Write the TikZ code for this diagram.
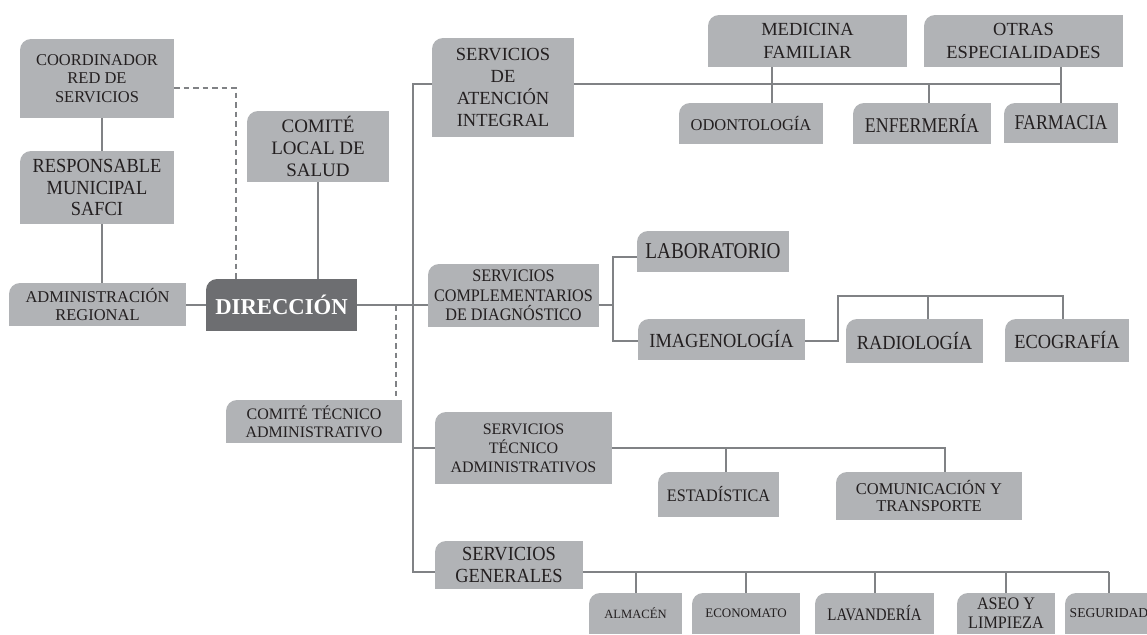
\documentclass[tikz,border=0pt]{standalone}
\usepackage{fontspec}
\setmainfont{Liberation Serif}
\newfontfamily\narrowA{Liberation Serif}[FakeStretch=0.85]
\newfontfamily\narrowB{Liberation Serif}[FakeStretch=0.92]
\definecolor{boxgray}{RGB}{177,179,182}
\definecolor{dirgray}{RGB}{109,110,113}
\definecolor{linegray}{RGB}{128,130,133}
\definecolor{textdark}{RGB}{35,31,32}
\tikzset{
  card/.style={fill=white, inner sep=0pt, align=center, text=textdark,
    path picture={
      \fill[#1] (path picture bounding box.south west) rectangle ([yshift=-11pt]path picture bounding box.north east);
      \fill[#1] ([xshift=11pt]path picture bounding box.north west) rectangle (path picture bounding box.south east);
      \fill[#1] ([xshift=11pt,yshift=-11pt]path picture bounding box.north west) circle[radius=11pt];}},
  card/.default=boxgray,
  link/.style={draw=linegray, line width=2pt},
  dashlink/.style={link, dash pattern=on 5.5pt off 4pt}
}
\newcommand{\fsz}[2]{\fontsize{#1}{#2}\selectfont}
\begin{document}
\begin{tikzpicture}[x=1pt,y=-1pt]
\useasboundingbox (0,0) rectangle (1147,634);
\clip (0,0) rectangle (1147,634);

\node[card, minimum width=154pt, minimum height=79pt, font=\fsz{16.5}{18.7}] (coord) at (97,78.5) {COORDINADOR\\RED DE\\SERVICIOS};
\node[card, minimum width=154pt, minimum height=73pt, font=\narrowB\fsz{20}{21.7}] (resp) at (97,187.5) {RESPONSABLE\\MUNICIPAL\\SAFCI};
\node[card, minimum width=177pt, minimum height=43pt, font=\fsz{16.5}{18.3}] (admin) at (97.5,304.5) {ADMINISTRACIÓN\\REGIONAL};
\node[card=dirgray, minimum width=151pt, minimum height=52pt, text=white, font=\bfseries\fsz{22.7}{24}] (dir) at (281.5,305) {DIRECCIÓN};
\node[card, minimum width=142pt, minimum height=71pt, font=\fsz{19}{22}] (local) at (318,146.5) {COMITÉ\\LOCAL DE\\SALUD};
\node[card, minimum width=176pt, minimum height=43pt, font=\fsz{16}{18.3}] (comtec) at (314,421.5) {COMITÉ TÉCNICO\\ADMINISTRATIVO};

\node[card, minimum width=142pt, minimum height=99pt, font=\fsz{18.5}{21.7}] (atencion) at (503,87.5) {SERVICIOS\\DE\\ATENCIÓN\\INTEGRAL};
\node[card, minimum width=199pt, minimum height=52pt, font=\fsz{18.5}{22.5}] (medicina) at (807.5,41) {MEDICINA\\FAMILIAR};
\node[card, minimum width=199pt, minimum height=52pt, font=\fsz{18.5}{22.5}] (otras) at (1023.5,41) {OTRAS\\ESPECIALIDADES};
\node[card, minimum width=144pt, minimum height=41pt, font=\fsz{16.5}{18}] (odont) at (751,123.5) {ODONTOLOGÍA};
\node[card, minimum width=138pt, minimum height=41pt, font=\narrowA\fsz{21}{22}] (enfer) at (922,123.5) {ENFERMERÍA};
\node[card, minimum width=114pt, minimum height=40pt, font=\narrowA\fsz{21}{22}] (farm) at (1061,123) {FARMACIA};

\node[card, minimum width=171pt, minimum height=63pt, font=\narrowB\fsz{17.6}{19.3}] (complem) at (513.5,295.5) {SERVICIOS\\COMPLEMENTARIOS\\DE DIAGNÓSTICO};
\node[card, minimum width=152pt, minimum height=41pt, font=\narrowA\fsz{22.6}{24}] (lab) at (713,251.5) {LABORATORIO};
\node[card, minimum width=167pt, minimum height=41pt, font=\narrowB\fsz{20}{22}] (imag) at (721.5,339.5) {IMAGENOLOGÍA};
\node[card, minimum width=137pt, minimum height=44pt, font=\narrowB\fsz{20}{22}] (rad) at (914.5,341) {RADIOLOGÍA};
\node[card, minimum width=124pt, minimum height=43pt, font=\narrowB\fsz{20}{22}] (eco) at (1067,340.5) {ECOGRAFÍA};

\node[card, minimum width=177pt, minimum height=72pt, font=\fsz{16}{19}] (tecnico) at (523.5,448) {SERVICIOS\\TÉCNICO\\ADMINISTRATIVOS};
\node[card, minimum width=121pt, minimum height=45pt, font=\narrowB\fsz{17.6}{19}] (estad) at (718.5,494.5) {ESTADÍSTICA};
\node[card, minimum width=186pt, minimum height=48pt, font=\fsz{16.5}{17.3}] (comunic) at (929,496) {COMUNICACIÓN Y\\TRANSPORTE};

\node[card, minimum width=148pt, minimum height=48pt, font=\narrowB\fsz{20}{21.7}] (generales) at (509,565) {SERVICIOS\\GENERALES};
\node[card, minimum width=93pt, minimum height=41pt, font=\fsz{12.6}{14}] (almacen) at (635.5,613.5) {ALMACÉN};
\node[card, minimum width=108pt, minimum height=41pt, font=\fsz{13}{14}] (econ) at (746,613.5) {ECONOMATO};
\node[card, minimum width=119pt, minimum height=41pt, font=\narrowA\fsz{17.6}{19}] (lav) at (874.5,613.5) {LAVANDERÍA};
\node[card, minimum width=98pt, minimum height=41pt, font=\narrowB\fsz{17.6}{19.3}] (aseo) at (1006,613.5) {ASEO Y\\LIMPIEZA};
\node[card, minimum width=88pt, minimum height=41pt, font=\fsz{13.6}{15}] (seg) at (1109,613.5) {SEGURIDAD};

\coordinate (tA) at (413,84);
\coordinate (tB) at (413,305);
\coordinate (tD) at (413,448);
\coordinate (tE) at (413,572);
\coordinate (vMed) at (772,84);
\coordinate (vEnf) at (929,84);
\coordinate (jLab) at (613,257);
\coordinate (jImg) at (613,341);
\coordinate (jSub) at (838,296);
\coordinate (vRad) at (928,296);
\coordinate (vEco) at (1063,296);
\coordinate (vEst) at (726,448);
\coordinate (vCom) at (945,448);
\coordinate (jCoord) at (236,88);
\coordinate (jTec) at (396,305);

\draw[link] ([xshift=5pt]coord.south) -- ([xshift=5pt]resp.north);
\draw[link] ([xshift=5pt]resp.south) -- ([xshift=4.5pt]admin.north);
\draw[link] (admin.east) -- (admin.east -| dir.west);
\draw[dashlink] (coord.east |- jCoord) -| (jCoord |- dir.north);
\draw[link] (local.south) -- (local.south |- dir.north);
\draw[link] (dir.east) -- (tB);
\draw[dashlink] (jTec) -- (jTec |- comtec.north);

\draw[link] (atencion.west |- tA) -- (tA) -- (tE) -- (generales.west |- tE);
\draw[link] (atencion.east |- tA) -- (farm.north |- tA);
\draw[link] (otras.south -| farm.north) -- (farm.north);
\draw[link] (medicina.south -| vMed) -- (odont.north -| vMed);
\draw[link] (vEnf) -- (vEnf |- enfer.north);

\draw[link] (tB) -- (complem.west |- tB);
\draw[link] (complem.east |- tB) -- (jLab |- tB);
\draw[link] (lab.west |- jLab) -- (jLab) -- (jImg) -- (imag.west |- jImg);
\draw[link] (imag.east |- jImg) -| (jSub) -- (vEco) -- (vEco |- eco.north);
\draw[link] (vRad) -- (vRad |- rad.north);

\draw[link] (tD) -- (tecnico.west |- tD);
\draw[link] (tecnico.east |- tD) -- (vCom) -- (vCom |- comunic.north);
\draw[link] (vEst) -- (vEst |- estad.north);

\draw[link] (generales.east |- tE) -- (seg.north |- tE);
\foreach \n in {almacen,econ,lav,aseo,seg}
  \draw[link] (\n.north |- tE) -- (\n.north);
\end{tikzpicture}
\end{document}
